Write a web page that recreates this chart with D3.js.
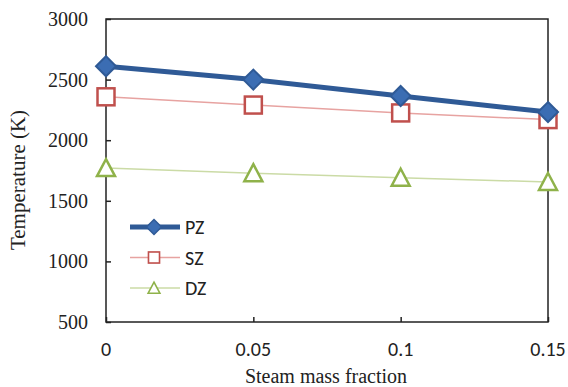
<!DOCTYPE html>
<html lang="en">
<head>
<meta charset="UTF-8">
<title>Temperature vs steam mass fraction</title>
<script src="https://d3js.org/d3.v7.min.js"></script>
<style>
    body { margin: 0; background: #fff; }
    .serif { font-family: "Liberation Serif", "Times New Roman", serif; }
    .sans { font-family: Carlito, Lato, "Liberation Sans", Arial, sans-serif; }
</style>
</head>
<body>
<svg width="568" height="387"></svg>
<script>
    var fractions = [0, 0.05, 0.1, 0.15];
    var pz = [2610, 2500, 2365, 2232];
    var sz = [2358, 2290, 2225, 2170];
    var dz = [1770, 1728, 1690, 1655];
    var yTicks = [500, 1000, 1500, 2000, 2500, 3000];
    var xTickLabels = ["0", "0.05", "0.1", "0.15"];

    var svg = d3.select("svg");
    var mLeft = 106, mRight = 548, mTop = 19, mBottom = 322;

    var x = d3.scaleLinear().domain([0, 0.15]).range([mLeft, mRight]);
    var y = d3.scaleLinear().domain([500, 3000]).range([mBottom, mTop]);

    // frame
    svg.append("rect")
        .attr("x", mLeft).attr("y", mTop)
        .attr("width", mRight - mLeft).attr("height", mBottom - mTop)
        .attr("fill", "none").attr("stroke", "#222").attr("stroke-width", 1.5);

    // y axis ticks (inward)
    var ya = svg.append("g").attr("transform", "translate(" + mLeft + ",0)")
        .call(d3.axisRight(y).tickValues(yTicks).tickSize(5).tickFormat(""));
    ya.select(".domain").remove();
    ya.selectAll("line").attr("stroke", "#222").attr("stroke-width", 1.5);

    svg.selectAll(".ylab").data(yTicks).enter().append("text")
        .attr("class", "serif")
        .attr("x", mLeft - 18).attr("y", function (d) { return y(d) + 7; })
        .attr("text-anchor", "end")
        .attr("font-size", 20).attr("fill", "#222")
        .text(function (d) { return d; });

    // x axis ticks (inward)
    var xa = svg.append("g").attr("transform", "translate(0," + mBottom + ")")
        .call(d3.axisTop(x).tickValues(fractions).tickSize(5).tickFormat(""));
    xa.select(".domain").remove();
    xa.selectAll("line").attr("stroke", "#222").attr("stroke-width", 1.5);

    svg.selectAll(".xlab").data(fractions).enter().append("text")
        .attr("class", "sans")
        .attr("x", function (d) { return x(d); }).attr("y", 356)
        .attr("text-anchor", "middle")
        .attr("font-size", 20).attr("fill", "#222")
        .text(function (d, i) { return xTickLabels[i]; });

    svg.append("text").attr("class", "serif")
        .attr("x", (mLeft + mRight) / 2 - 1).attr("y", 383)
        .attr("text-anchor", "middle").attr("font-size", 20).attr("fill", "#222")
        .text("Steam mass fraction");

    svg.append("text").attr("class", "serif")
        .attr("transform", "translate(25,180) rotate(-90)")
        .attr("text-anchor", "middle").attr("font-size", 21).attr("fill", "#222")
        .text("Temperature (K)");

    var line = d3.line().x(function (d) { return x(d[0]); }).y(function (d) { return y(d[1]); });
    function pts(vals) { return fractions.map(function (f, i) { return [f, vals[i]]; }); }

    var series = [
        { name: "PZ", vals: pz, line: "#2F5A96", width: 5, marker: "diamond", stroke: "#2F5A96", fill: "#3B6DB3", ls: 0.75 },
        { name: "SZ", vals: sz, line: "#E7A3A1", width: 1.5, marker: "square", stroke: "#C0504D", fill: "#fff", ls: 0.65 },
        { name: "DZ", vals: dz, line: "#CBDBA6", width: 1.5, marker: "triangle", stroke: "#8FB24A", fill: "#fff", ls: 0.65 }
    ];

    function marker(g, s, cx, cy) {
        if (s.marker === "diamond") {
            g.append("path").attr("d", "M" + cx + "," + (cy - 10) + "L" + (cx + 10) + "," + cy + "L" + cx + "," + (cy + 10) + "L" + (cx - 10) + "," + cy + "Z")
                .attr("fill", s.fill).attr("stroke", s.stroke).attr("stroke-width", 2);
        } else if (s.marker === "square") {
            g.append("rect").attr("x", cx - 8.5).attr("y", cy - 8.5).attr("width", 17).attr("height", 17)
                .attr("fill", s.fill).attr("stroke", s.stroke).attr("stroke-width", 2.5);
        } else {
            g.append("path").attr("d", "M" + cx + "," + (cy - 9) + "L" + (cx + 9) + "," + (cy + 8) + "L" + (cx - 9) + "," + (cy + 8) + "Z")
                .attr("fill", s.fill).attr("stroke", s.stroke).attr("stroke-width", 2.5);
        }
    }

    // draw DZ, SZ first, PZ on top
    series.slice().reverse().forEach(function (s) {
        var g = svg.append("g");
        g.append("path").datum(pts(s.vals)).attr("d", line)
            .attr("fill", "none").attr("stroke", s.line).attr("stroke-width", s.width);
        pts(s.vals).forEach(function (p) { marker(g, s, x(p[0]), y(p[1])); });
    });

    // legend
    series.forEach(function (s, i) {
        var ly = 227 + i * 30.5;
        var g = svg.append("g");
        g.append("line").attr("x1", 130).attr("x2", 180).attr("y1", ly).attr("y2", ly)
            .attr("stroke", s.line).attr("stroke-width", s.width);
        var mg = g.append("g").attr("transform", "translate(154," + ly + ") scale(" + s.ls + ")");
        marker(mg, s, 0, 0);
        g.append("text").attr("class", "sans")
            .attr("x", 185).attr("y", ly + 7)
            .attr("font-size", 20).attr("fill", "#222")
            .text(s.name);
    });
</script>
</body>
</html>
